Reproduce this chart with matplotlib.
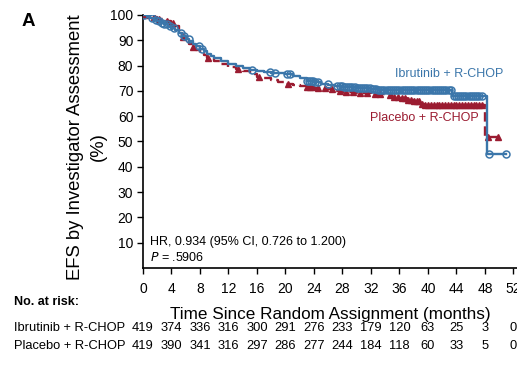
import numpy as np
import matplotlib.pyplot as plt
from matplotlib import transforms

plt.rcParams['font.family'] = ['Liberation Sans', 'DejaVu Sans']

BLUE = '#3b76aa'
RED = '#9b1c31'

# --- data ---------------------------------------------------------------
ibr_t = [0, 0.5, 1.0, 1.5, 2.0, 2.5, 3.0, 3.5, 4.0, 4.5, 5.0, 5.5, 6.0, 6.5,
         7.0, 7.5, 8.0, 8.5, 9.0, 9.5, 10.0, 11.0, 12.0, 13.0, 14.0, 15.0,
         16.0, 17.0, 18.0, 19.0, 20.0, 21.0, 22.0, 23.0, 24.0, 25.0, 26.0,
         27.0, 28.0, 29.0, 30.0, 31.0, 32.0, 33.0, 34.0, 43.4, 48.3]
ibr_s = [100, 99.5, 98.8, 98.2, 97.6, 97.0, 96.3, 95.5, 94.8, 94.2, 92.8,
         91.5, 90.4, 89.6, 88.5, 87.6, 86.7, 85.6, 84.6, 83.8, 83.0, 82.0,
         80.8, 79.8, 78.9, 78.2, 77.9, 77.5, 77.1, 76.9, 76.6, 75.8, 74.9,
         74.1, 73.4, 72.9, 72.5, 72.1, 71.7, 71.4, 71.2, 71.0, 70.8, 70.5,
         70.3, 68.0, 45.0]
ibr_end = 50.9
ibr_cens = [0.2, 1.3, 1.8, 2.2, 2.6, 3.0, 3.4, 3.8, 4.3, 5.3, 5.8, 6.4, 7.9,
            8.3, 15.3, 17.8, 18.5, 20.2, 20.6, 23.0, 23.3, 23.6, 23.9, 24.2,
            24.5, 25.9, 27.3, 27.6, 27.9, 28.2, 28.5, 28.8, 29.1, 29.4, 29.7,
            30.0, 30.3, 30.6, 30.9, 31.2, 31.5, 31.8, 32.1, 32.4, 32.7, 33.0,
            33.3, 33.6, 33.9, 34.2, 34.5, 34.8, 35.1, 35.4, 35.7, 36.0, 36.3,
            36.6, 36.9, 37.2, 37.5, 37.8, 38.1, 38.4, 38.7, 39.0, 39.3, 39.6,
            39.9, 40.2, 40.5, 40.8, 41.1, 41.4, 41.7, 42.0, 42.3, 42.6, 42.9,
            43.2, 43.6, 43.9, 44.2, 44.5, 44.8, 45.1, 45.4, 45.7, 46.0, 46.3,
            46.6, 46.9, 47.2, 47.6, 48.6, 50.9]

pla_t = [0, 1.0, 2.0, 3.0, 4.0, 4.5, 5.0, 5.5, 6.0, 6.5, 7.0, 7.5, 8.0, 8.5,
         9.0, 10.0, 11.0, 12.0, 13.0, 14.0, 15.0, 16.0, 17.0, 18.0, 19.0,
         20.0, 21.0, 22.0, 23.0, 24.0, 26.0, 27.0, 28.0, 30.0, 32.0, 34.0,
         35.0, 36.0, 37.0, 38.0, 39.0, 39.5, 48.0]
pla_s = [100, 99.2, 98.6, 97.8, 97.0, 95.5, 93.0, 91.2, 89.7, 88.5, 87.2,
         86.2, 85.0, 84.0, 83.0, 81.8, 80.7, 79.6, 78.7, 77.8, 76.5, 75.4,
         74.9, 74.3, 73.6, 72.6, 72.2, 71.8, 71.5, 71.1, 70.8, 70.1, 69.6,
         69.2, 68.8, 68.4, 67.6, 67.0, 66.5, 65.9, 65.0, 64.4, 51.8]
pla_end = 50.0
pla_cens = [0.3, 1.5, 2.3, 3.3, 4.2, 5.6, 7.0, 9.1, 13.3, 16.3, 20.4, 23.0,
            23.4, 23.8, 24.5, 25.5, 26.5, 27.7, 28.5, 29.5, 30.5, 31.5, 32.5,
            33.2, 34.7, 35.3, 35.8, 36.3, 36.8, 37.2, 37.6, 38.0, 38.4, 38.8,
            39.2, 39.6, 40.0, 40.4, 40.8, 41.2, 41.6, 42.0, 42.4, 42.8, 43.2,
            43.6, 44.0, 44.4, 44.8, 45.2, 45.6, 46.0, 46.4, 46.8, 47.2, 47.6,
            48.4, 49.9]

risk_times = list(range(0, 53, 4))
ibr_risk = [419, 374, 336, 316, 300, 291, 276, 233, 179, 120, 63, 25, 3, 0]
pla_risk = [419, 390, 341, 316, 297, 286, 277, 244, 184, 118, 60, 33, 5, 0]


def surv_at(tc, times, surv):
    idx = np.searchsorted(times, tc, side='right') - 1
    return np.asarray(surv)[idx]


fig = plt.figure(figsize=(5.17, 3.72), dpi=100)
ax = fig.add_axes([0.2766, 0.2796, 0.7234, 0.6801])

# placebo (dashed red, filled triangles)
ax.step(pla_t + [pla_end], pla_s + [pla_s[-1]], where='post', color=RED,
        lw=1.7, ls=(0, (4, 2)), zorder=2)
ax.plot(pla_cens, surv_at(pla_cens, pla_t, pla_s), ls='none', marker='^',
        ms=5, color=RED, mec=RED, zorder=3)

# ibrutinib (solid blue, open circles)
ax.step(ibr_t + [ibr_end], ibr_s + [ibr_s[-1]], where='post', color=BLUE,
        lw=1.7, zorder=4)
ax.plot(ibr_cens, surv_at(ibr_cens, ibr_t, ibr_s), ls='none', marker='o',
        ms=5, mfc='none', mec=BLUE, mew=1.1, zorder=5)

ax.set_xlim(0, 52.5)
ax.set_ylim(0, 100)
ax.set_xticks(risk_times)
ax.set_yticks(range(10, 101, 10))
ax.tick_params(labelsize=10, length=4, width=1, pad=3)
ax.tick_params(axis='x', pad=6)
for s in ['top', 'right']:
    ax.spines[s].set_visible(False)
for s in ['left', 'bottom']:
    ax.spines[s].set_linewidth(1.2)

ax.set_xlabel('Time Since Random Assignment (months)', fontsize=12.3,
              labelpad=8)
fig.text(0.168, 0.605, 'EFS by Investigator Assessment\n(%)', rotation=90,
         ha='center', va='center', multialignment='center', fontsize=13.3,
         linespacing=1.45)

ax.text(35.4, 76.7, 'Ibrutinib + R-CHOP', color=BLUE, fontsize=9,
        ha='left', va='center')
ax.text(31.9, 59.3, 'Placebo + R-CHOP', color=RED, fontsize=9,
        ha='left', va='center')
ax.text(1.0, 10.3, 'HR, 0.934 (95% CI, 0.726 to 1.200)', fontsize=9,
        ha='left', va='center')
ax.text(1.0, 4.3, '$P$ = .5906', fontsize=9, ha='left', va='center')

fig.text(0.041, 0.942, 'A', fontsize=13.5, fontweight='bold', ha='left',
         va='center')

# risk table
trans = transforms.blended_transform_factory(ax.transData, fig.transFigure)
fig.text(0.027, 1 - 302 / 372, 'No. at risk:', fontsize=9,
         fontweight='bold', ha='left', va='center')
rows = [('Ibrutinib + R-CHOP', ibr_risk, 1 - 328 / 372),
        ('Placebo + R-CHOP', pla_risk, 1 - 346 / 372)]
for name, vals, yy in rows:
    fig.text(0.027, yy, name, fontsize=9.3, ha='left', va='center')
    for tt, v in zip(risk_times, vals):
        ax.text(tt, yy, str(v), fontsize=9.3, ha='center', va='center',
                transform=trans, clip_on=False)

fig.savefig('out.png', dpi=100)
